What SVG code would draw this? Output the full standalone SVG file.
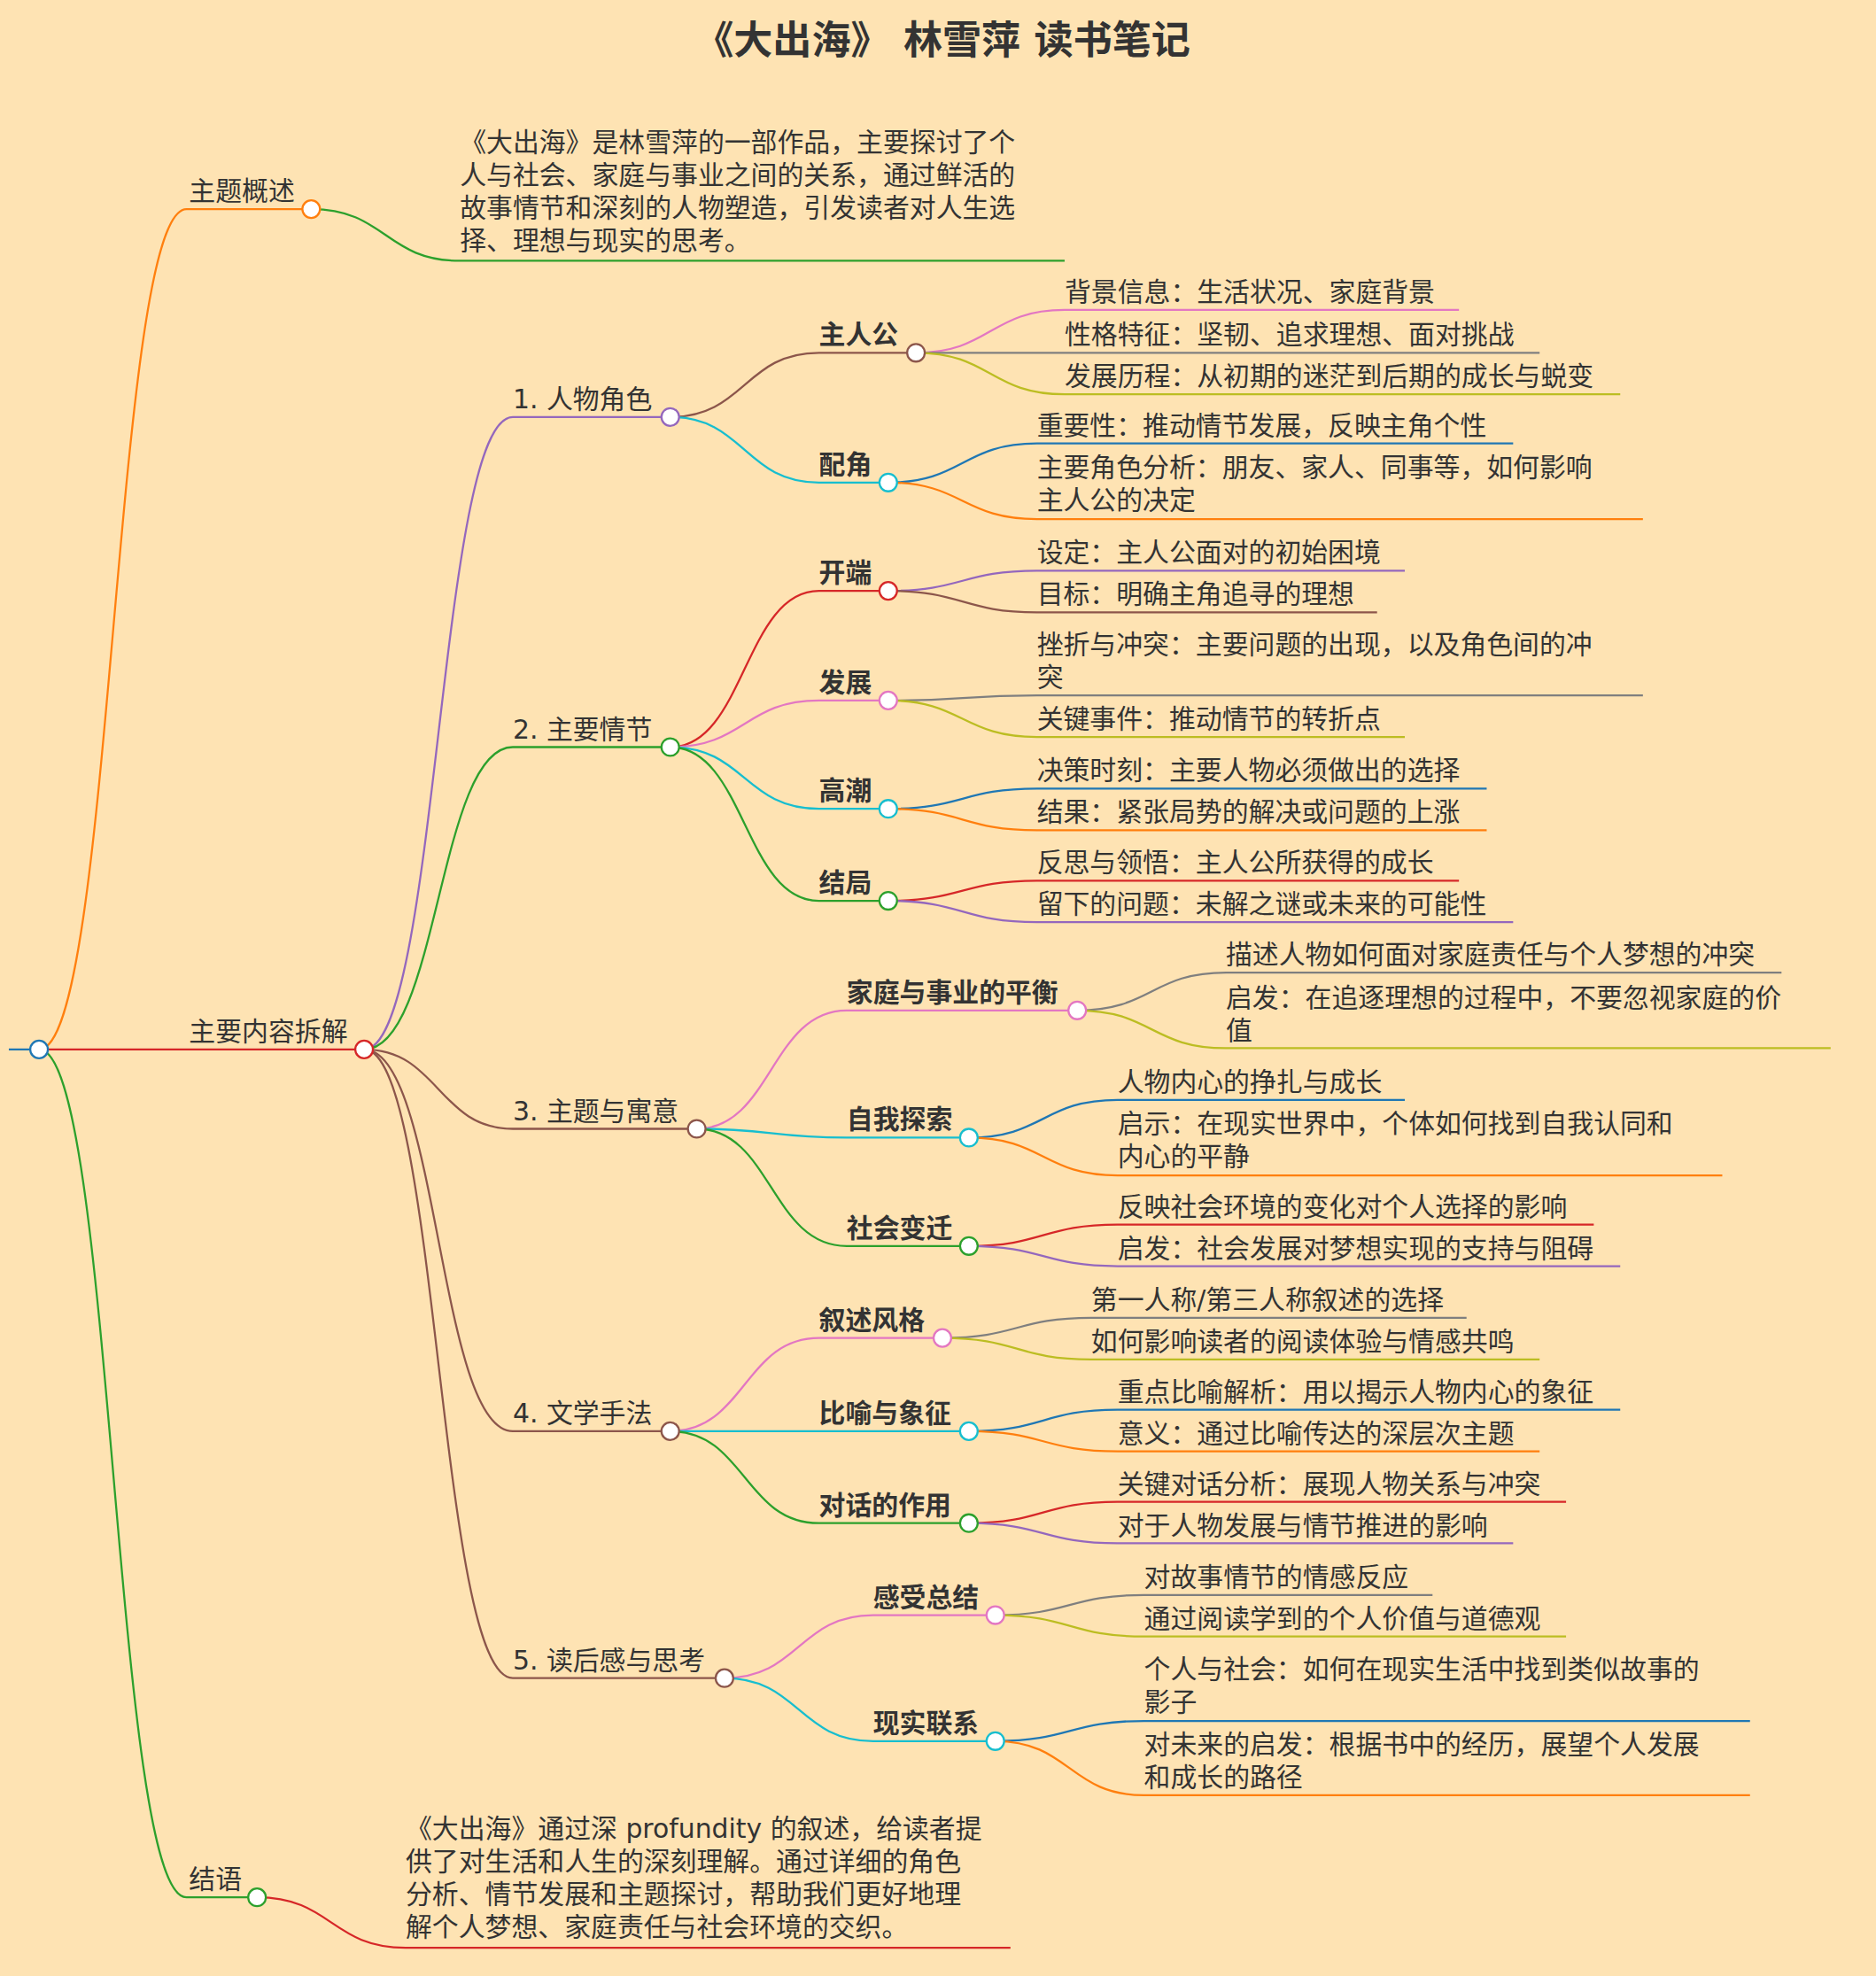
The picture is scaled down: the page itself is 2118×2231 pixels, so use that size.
<svg xmlns="http://www.w3.org/2000/svg" width="2118" height="2231" viewBox="0 0 2118 2231">
<style>
text{font-family:"DejaVu Sans","Noto Sans CJK SC",sans-serif;font-size:21px;fill:#333}
.b{font-weight:bold}
.t{font-size:31px;font-weight:bold;text-anchor:middle}
path,line{fill:none;stroke-width:1.6}
circle{fill:#fff;stroke-width:1.6}
</style>
<rect width="2118" height="2231" fill="#fee3b3"/>
<g transform="scale(1.42243)">
<text class="t" x="748" y="43">《大出海》 林雪萍 读书笔记</text>
<g id="links">
<line x1="7" y1="833" x2="31" y2="833" stroke="#1f77b4"/>
<path d="M31 833C90 833 90 166 148 166H247" stroke="#ff7f0e"/>
<path d="M31 833C90 833 90 833 148 833H289" stroke="#d62728"/>
<path d="M31 833C90 833 90 1506 148 1506H204" stroke="#2ca02c"/>
<path d="M247 166C306 166 306 207 365 207H845" stroke="#2ca02c"/>
<path d="M204 1506C263 1506 263 1546 322 1546H802" stroke="#d62728"/>
<path d="M289 833C348 833 348 331 407 331H532" stroke="#9467bd"/>
<path d="M289 833C348 833 348 593 407 593H532" stroke="#2ca02c"/>
<path d="M289 833C348 833 348 896 407 896H553" stroke="#8c564b"/>
<path d="M289 833C348 833 348 1136 407 1136H532" stroke="#8c564b"/>
<path d="M289 833C348 833 348 1332 407 1332H575" stroke="#8c564b"/>
<path d="M532 331C591 331 591 280 650 280H727" stroke="#8c564b"/>
<path d="M532 331C591 331 591 383 650 383H705" stroke="#17becf"/>
<path d="M727 280C786 280 786 246 845 246H1158" stroke="#e377c2"/>
<path d="M727 280C786 280 786 280 845 280H1222" stroke="#7f7f7f"/>
<path d="M727 280C786 280 786 313 845 313H1286" stroke="#bcbd22"/>
<path d="M705 383C764 383 764 352 823 352H1201" stroke="#1f77b4"/>
<path d="M705 383C764 383 764 412 823 412H1304" stroke="#ff7f0e"/>
<path d="M532 593C591 593 591 469 650 469H705" stroke="#d62728"/>
<path d="M532 593C591 593 591 556 650 556H705" stroke="#e377c2"/>
<path d="M532 593C591 593 591 642 650 642H705" stroke="#17becf"/>
<path d="M532 593C591 593 591 715 650 715H705" stroke="#2ca02c"/>
<path d="M705 469C764 469 764 453 823 453H1115" stroke="#9467bd"/>
<path d="M705 469C764 469 764 486 823 486H1093" stroke="#8c564b"/>
<path d="M705 556C764 556 764 552 823 552H1304" stroke="#7f7f7f"/>
<path d="M705 556C764 556 764 585 823 585H1115" stroke="#bcbd22"/>
<path d="M705 642C764 642 764 626 823 626H1180" stroke="#1f77b4"/>
<path d="M705 642C764 642 764 659 823 659H1180" stroke="#ff7f0e"/>
<path d="M705 715C764 715 764 699 823 699H1158" stroke="#d62728"/>
<path d="M705 715C764 715 764 732 823 732H1201" stroke="#9467bd"/>
<path d="M553 896C612 896 612 802 672 802H855" stroke="#e377c2"/>
<path d="M553 896C612 896 612 903 672 903H769" stroke="#17becf"/>
<path d="M553 896C612 896 612 989 672 989H769" stroke="#2ca02c"/>
<path d="M855 802C914 802 914 772 973 772H1414" stroke="#7f7f7f"/>
<path d="M855 802C914 802 914 832 973 832H1453" stroke="#bcbd22"/>
<path d="M769 903C828 903 828 873 887 873H1115" stroke="#1f77b4"/>
<path d="M769 903C828 903 828 933 887 933H1367" stroke="#ff7f0e"/>
<path d="M769 989C828 989 828 972 887 972H1265" stroke="#d62728"/>
<path d="M769 989C828 989 828 1005 887 1005H1286" stroke="#9467bd"/>
<path d="M532 1136C591 1136 591 1062 650 1062H748" stroke="#e377c2"/>
<path d="M532 1136C591 1136 591 1136 650 1136H769" stroke="#17becf"/>
<path d="M532 1136C591 1136 591 1209 650 1209H769" stroke="#2ca02c"/>
<path d="M748 1062C807 1062 807 1046 866 1046H1164" stroke="#7f7f7f"/>
<path d="M748 1062C807 1062 807 1079 866 1079H1222" stroke="#bcbd22"/>
<path d="M769 1136C828 1136 828 1119 887 1119H1286" stroke="#1f77b4"/>
<path d="M769 1136C828 1136 828 1152 887 1152H1222" stroke="#ff7f0e"/>
<path d="M769 1209C828 1209 828 1192 887 1192H1243" stroke="#d62728"/>
<path d="M769 1209C828 1209 828 1225 887 1225H1201" stroke="#9467bd"/>
<path d="M575 1332C634 1332 634 1282 693 1282H790" stroke="#e377c2"/>
<path d="M575 1332C634 1332 634 1382 693 1382H790" stroke="#17becf"/>
<path d="M790 1282C849 1282 849 1266 908 1266H1137" stroke="#7f7f7f"/>
<path d="M790 1282C849 1282 849 1299 908 1299H1243" stroke="#bcbd22"/>
<path d="M790 1382C849 1382 849 1366 908 1366H1389" stroke="#1f77b4"/>
<path d="M790 1382C849 1382 849 1425 908 1425H1389" stroke="#ff7f0e"/>
</g>
<g id="root"><circle cx="31" cy="833" r="7" stroke="#1f77b4"/></g>
<g id="n-zhuti"><text x="150" y="159">主题概述</text><circle cx="247" cy="166" r="7" stroke="#ff7f0e"/></g>
<g id="n-zhuti-d"><text x="365" y="120">《大出海》是林雪萍的一部作品，主要探讨了个</text><text x="365" y="146">人与社会、家庭与事业之间的关系，通过鲜活的</text><text x="365" y="172">故事情节和深刻的人物塑造，引发读者对人生选</text><text x="365" y="198">择、理想与现实的思考。</text></g>
<g id="n-main"><text x="150" y="826">主要内容拆解</text><circle cx="289" cy="833" r="7" stroke="#d62728"/></g>
<g id="n-end"><text x="150" y="1499">结语</text><circle cx="204" cy="1506" r="7" stroke="#2ca02c"/></g>
<g id="n-end-d"><text x="322" y="1459">《大出海》通过深 profundity 的叙述，给读者提</text><text x="322" y="1485">供了对生活和人生的深刻理解。通过详细的角色</text><text x="322" y="1511">分析、情节发展和主题探讨，帮助我们更好地理</text><text x="322" y="1537">解个人梦想、家庭责任与社会环境的交织。</text></g>
<g id="n1"><text x="407" y="324">1. 人物角色</text><circle cx="532" cy="331" r="7" stroke="#9467bd"/></g>
<g id="n2"><text x="407" y="586">2. 主要情节</text><circle cx="532" cy="593" r="7" stroke="#2ca02c"/></g>
<g id="n3"><text x="407" y="889">3. 主题与寓意</text><circle cx="553" cy="896" r="7" stroke="#8c564b"/></g>
<g id="n4"><text x="407" y="1129">4. 文学手法</text><circle cx="532" cy="1136" r="7" stroke="#8c564b"/></g>
<g id="n5"><text x="407" y="1325">5. 读后感与思考</text><circle cx="575" cy="1332" r="7" stroke="#8c564b"/></g>
<g id="n1a"><text class="b" x="650" y="273">主人公</text><circle cx="727" cy="280" r="7" stroke="#8c564b"/></g>
<g id="n1a-c"><text x="845" y="239">背景信息：生活状况、家庭背景</text><text x="845" y="273">性格特征：坚韧、追求理想、面对挑战</text><text x="845" y="306">发展历程：从初期的迷茫到后期的成长与蜕变</text></g>
<g id="n1b"><text class="b" x="650" y="376">配角</text><circle cx="705" cy="383" r="7" stroke="#17becf"/></g>
<g id="n1b-c"><text x="823" y="345">重要性：推动情节发展，反映主角个性</text><text x="823" y="378">主要角色分析：朋友、家人、同事等，如何影响</text><text x="823" y="404">主人公的决定</text></g>
<g id="n2a"><text class="b" x="650" y="462">开端</text><circle cx="705" cy="469" r="7" stroke="#d62728"/></g>
<g id="n2a-c"><text x="823" y="446">设定：主人公面对的初始困境</text><text x="823" y="479">目标：明确主角追寻的理想</text></g>
<g id="n2b"><text class="b" x="650" y="549">发展</text><circle cx="705" cy="556" r="7" stroke="#e377c2"/></g>
<g id="n2b-c"><text x="823" y="519">挫折与冲突：主要问题的出现，以及角色间的冲</text><text x="823" y="545">突</text><text x="823" y="578">关键事件：推动情节的转折点</text></g>
<g id="n2c"><text class="b" x="650" y="635">高潮</text><circle cx="705" cy="642" r="7" stroke="#17becf"/></g>
<g id="n2c-c"><text x="823" y="619">决策时刻：主要人物必须做出的选择</text><text x="823" y="652">结果：紧张局势的解决或问题的上涨</text></g>
<g id="n2d"><text class="b" x="650" y="708">结局</text><circle cx="705" cy="715" r="7" stroke="#2ca02c"/></g>
<g id="n2d-c"><text x="823" y="692">反思与领悟：主人公所获得的成长</text><text x="823" y="725">留下的问题：未解之谜或未来的可能性</text></g>
<g id="n3a"><text class="b" x="672" y="795">家庭与事业的平衡</text><circle cx="855" cy="802" r="7" stroke="#e377c2"/></g>
<g id="n3a-c"><text x="973" y="765">描述人物如何面对家庭责任与个人梦想的冲突</text><text x="973" y="799">启发：在追逐理想的过程中，不要忽视家庭的价</text><text x="973" y="825">值</text></g>
<g id="n3b"><text class="b" x="672" y="896">自我探索</text><circle cx="769" cy="903" r="7" stroke="#17becf"/></g>
<g id="n3b-c"><text x="887" y="866">人物内心的挣扎与成长</text><text x="887" y="899">启示：在现实世界中，个体如何找到自我认同和</text><text x="887" y="925">内心的平静</text></g>
<g id="n3c"><text class="b" x="672" y="982">社会变迁</text><circle cx="769" cy="989" r="7" stroke="#2ca02c"/></g>
<g id="n3c-c"><text x="887" y="965">反映社会环境的变化对个人选择的影响</text><text x="887" y="998">启发：社会发展对梦想实现的支持与阻碍</text></g>
<g id="n4a"><text class="b" x="650" y="1055">叙述风格</text><circle cx="748" cy="1062" r="7" stroke="#e377c2"/></g>
<g id="n4a-c"><text x="866" y="1039">第一人称/第三人称叙述的选择</text><text x="866" y="1072">如何影响读者的阅读体验与情感共鸣</text></g>
<g id="n4b"><text class="b" x="650" y="1129">比喻与象征</text><circle cx="769" cy="1136" r="7" stroke="#17becf"/></g>
<g id="n4b-c"><text x="887" y="1112">重点比喻解析：用以揭示人物内心的象征</text><text x="887" y="1145">意义：通过比喻传达的深层次主题</text></g>
<g id="n4c"><text class="b" x="650" y="1202">对话的作用</text><circle cx="769" cy="1209" r="7" stroke="#2ca02c"/></g>
<g id="n4c-c"><text x="887" y="1185">关键对话分析：展现人物关系与冲突</text><text x="887" y="1218">对于人物发展与情节推进的影响</text></g>
<g id="n5a"><text class="b" x="693" y="1275">感受总结</text><circle cx="790" cy="1282" r="7" stroke="#e377c2"/></g>
<g id="n5a-c"><text x="908" y="1259">对故事情节的情感反应</text><text x="908" y="1292">通过阅读学到的个人价值与道德观</text></g>
<g id="n5b"><text class="b" x="693" y="1375">现实联系</text><circle cx="790" cy="1382" r="7" stroke="#17becf"/></g>
<g id="n5b-c"><text x="908" y="1332">个人与社会：如何在现实生活中找到类似故事的</text><text x="908" y="1358">影子</text><text x="908" y="1392">对未来的启发：根据书中的经历，展望个人发展</text><text x="908" y="1418">和成长的路径</text></g>
</g>
</svg>
